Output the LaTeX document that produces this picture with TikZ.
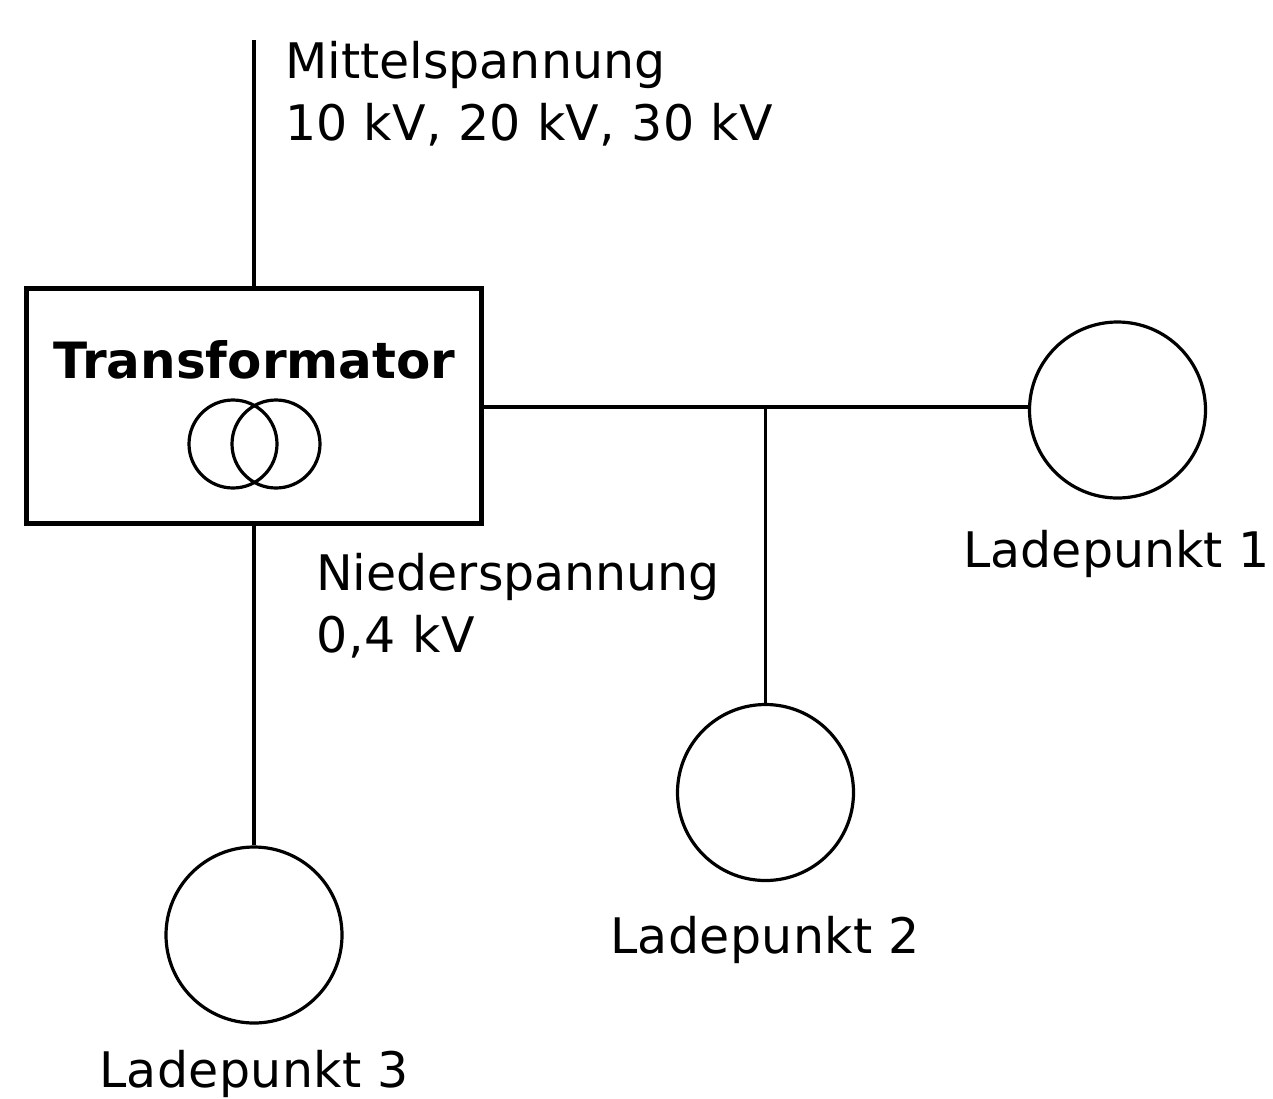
\documentclass[tikz,border=0pt]{standalone}
\usepackage{fontspec}
\setmainfont{DejaVu Sans}
\tikzset{
  x=1pt,y=-1pt,
  wire/.style={draw=black,line width=3.4pt},
  lp/.style={circle,draw=black,line width=3.2pt,minimum size=176pt,inner sep=0pt},
  coil/.style={circle,draw=black,line width=3.2pt,minimum size=88pt,inner sep=0pt},
  lbl/.style={font=\fontsize{49}{62}\selectfont,text=black,inner sep=0pt,align=left},
  box/.style={rectangle,draw=black,line width=4.4pt,minimum width=455pt,minimum height=235pt,inner sep=0pt}
}
\begin{document}
\begin{tikzpicture}
\useasboundingbox (0,0) rectangle (1273,1098);
\node[box] (T) at (254,406) {};
\node[lbl,font=\fontsize{50}{62}\selectfont\bfseries,anchor=center] (Tl) at (254.5,360) {Transformator};
\node[coil] (c1) at (233,444) {};
\node[coil] (c2) at (276,444) {};
\node[lp] (L1) at (1117.5,410) {};
\node[lp] (L2) at (765.5,792.5) {};
\node[lp] (L3) at (254,935) {};
\coordinate (top) at (254,40);
\coordinate (J) at (765.5,407);
\draw[wire] (top) -- (T.north -| top);
\draw[wire] (T.east |- J) -- (J) -- (L1.west |- J);
\draw[wire] (J) -- (L2.north);
\draw[wire] (T.south) -- (L3.north);
\node[lbl,anchor=north west] (m) at (285,41) {Mittelspannung\\\addfontfeature{LetterSpace=0.9}10 kV, 20 kV, 30 kV};
\node[lbl,anchor=north west] (n) at (316,553) {Niederspannung\\\addfontfeature{LetterSpace=1.7}0,4 kV};
\node[lbl,anchor=base] (t1) at (1116.5,567) {Ladepunkt 1};
\node[lbl,anchor=base] (t2) at (765,953) {\addfontfeature{LetterSpace=0.7}Ladepunkt 2};
\node[lbl,anchor=base] (t3) at (254,1087) {\addfontfeature{LetterSpace=0.7}Ladepunkt 3};
\end{tikzpicture}
\end{document}
